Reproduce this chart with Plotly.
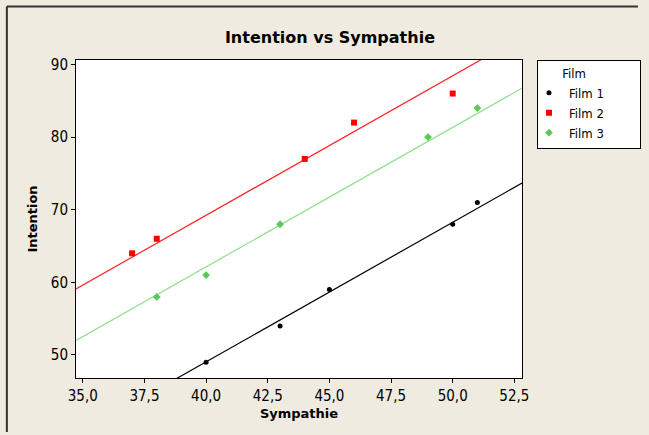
import numpy as np
import plotly.graph_objects as go

films = ["Film 1", "Film 2", "Film 3"]
sympathie = {
    "Film 1": [40, 43, 45, 50, 51],
    "Film 2": [37, 38, 44, 46, 50],
    "Film 3": [38, 40, 43, 49, 51],
}
intention = {
    "Film 1": [49, 54, 59, 68, 71],
    "Film 2": [64, 66, 77, 82, 86],
    "Film 3": [58, 61, 68, 80, 84],
}
x_ticks = [35.0, 37.5, 40.0, 42.5, 45.0, 47.5, 50.0, 52.5]
x_tick_labels = ["35,0", "37,5", "40,0", "42,5", "45,0", "47,5", "50,0", "52,5"]
y_ticks = [50, 60, 70, 80, 90]

marker_colors = {"Film 1": "#000000", "Film 2": "#FF0000", "Film 3": "#5CC85C"}
line_colors = {"Film 1": "#000000", "Film 2": "#FF2020", "Film 3": "#8CE08C"}
symbols = {"Film 1": "circle", "Film 2": "square", "Film 3": "diamond"}
sizes = {"Film 1": 5, "Film 2": 6, "Film 3": 6}

XR = [34.725, 52.81]
YR = [46.83, 90.62]

# common-slope (parallel lines) regression
sxy = sxx = 0.0
for f in films:
    x = np.array(sympathie[f], float); y = np.array(intention[f], float)
    sxy += ((x - x.mean()) * (y - y.mean())).sum()
    sxx += ((x - x.mean()) ** 2).sum()
slope = sxy / sxx

narrow = "Liberation Sans Narrow, DejaVu Sans Condensed, Liberation Sans"
tick_font = dict(family=narrow, size=15, color="#000000")

fig = go.Figure()
for f in films:
    x = np.array(sympathie[f], float); y = np.array(intention[f], float)
    b = y.mean() - slope * x.mean()
    lx = np.array(XR)
    fig.add_trace(go.Scatter(x=lx, y=b + slope * lx, mode="lines",
                             line=dict(color=line_colors[f], width=1.2),
                             showlegend=False, hoverinfo="skip"))
for f in films:
    fig.add_trace(go.Scatter(x=sympathie[f], y=intention[f], mode="markers", name=f,
                             marker=dict(color=marker_colors[f], symbol=symbols[f], size=sizes[f],
                                         line=dict(width=0))))

fig.update_layout(
    width=649, height=435,
    paper_bgcolor="#EFEBE1", plot_bgcolor="#FFFFFF",
    margin=dict(l=76, r=127, t=60, b=57, autoexpand=False),
    title=dict(text="<b>Intention vs Sympathie</b>", x=0.5694, xref="paper", xanchor="center",
               y=1 - 37 / 435, yanchor="middle",
               font=dict(family="DejaVu Sans", size=16, color="#000000")),
    xaxis=dict(range=XR, tickvals=x_ticks, ticktext=x_tick_labels, ticks="outside", ticklen=4,
               tickcolor="#000000", showgrid=False, zeroline=False, showline=True, linecolor="#000000",
               linewidth=1, mirror=True, tickfont=tick_font,
               title=dict(text="<b>Sympathie</b>", standoff=4,
                          font=dict(family="DejaVu Sans", size=13, color="#000000"))),
    yaxis=dict(range=YR, tickvals=y_ticks, ticks="outside", ticklen=4,
               tickcolor="#000000", showgrid=False, zeroline=False, showline=True, linecolor="#000000",
               linewidth=1, mirror=True, tickfont=tick_font,
               title=dict(text="<b>Intention</b>", standoff=10,
                          font=dict(family="DejaVu Sans", size=13, color="#000000"))),
    legend=dict(x=1.0336, xanchor="left", y=1.0, yanchor="top", bgcolor="#FFFFFF",
                bordercolor="#000000", borderwidth=1,
                title=dict(text="\u00a0" * 6 + "Film" + "\u00a0" * 14, font=dict(family=narrow, size=13)),
                font=dict(family=narrow, size=13, color="#000000"),
                tracegroupgap=0, itemwidth=30, indentation=-9),
    shapes=[
        dict(type="line", xref="paper", yref="paper", x0=-0.155, y0=-0.17, x1=-0.155, y1=1.168,
             line=dict(color="#333333", width=2), layer="above"),
        dict(type="line", xref="paper", yref="paper", x0=-0.155, y0=1.168, x1=1.26, y1=1.168,
             line=dict(color="#333333", width=2), layer="above"),
    ],
    showlegend=True,
)
fig.write_html("out.html", config={"displayModeBar": False},
               post_script="document.body.style.margin='0';document.body.style.overflow='hidden';")
